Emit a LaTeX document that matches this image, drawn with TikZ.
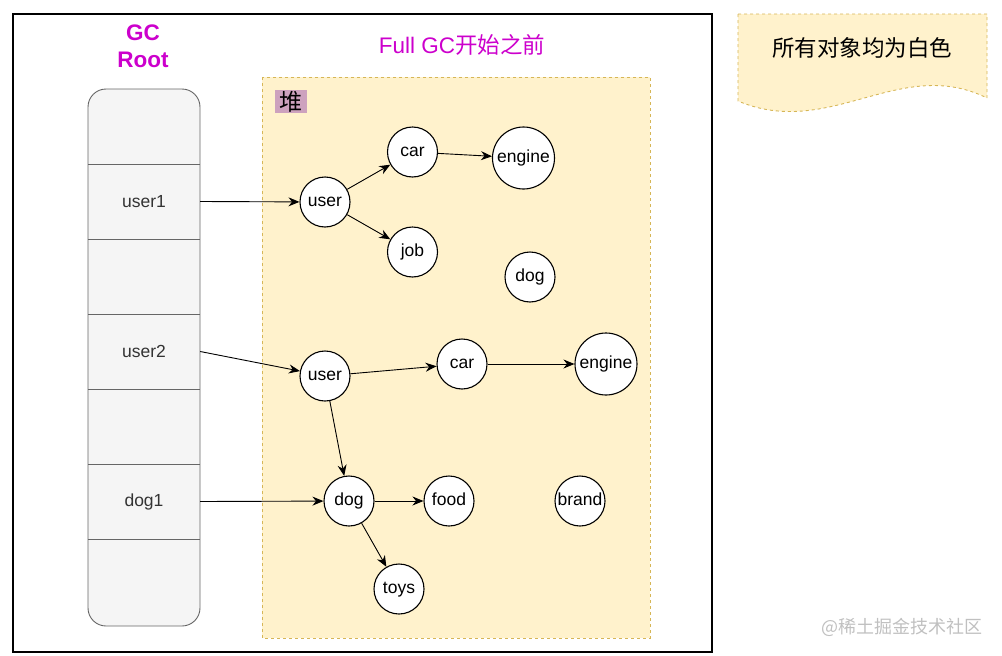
\documentclass[tikz,border=0pt]{standalone}
\usepackage{fontspec}
\setmainfont{Liberation Sans}
\newfontfamily\cjk{Noto Sans CJK SC}
\usetikzlibrary{arrows.meta}
\definecolor{mag}{HTML}{CC00CC}
\definecolor{heapfill}{HTML}{FFF2CC}
\definecolor{heapline}{HTML}{D6B656}
\definecolor{stackfill}{HTML}{F5F5F5}
\definecolor{stackline}{HTML}{666666}
\definecolor{stacktext}{HTML}{333333}
\definecolor{pilebg}{HTML}{CDA2BE}
\definecolor{wmark}{HTML}{C0C0C0}
\tikzset{
  obj/.style={circle, draw=black, fill=white, line width=1.1pt, minimum size=50pt, inner sep=0pt, text height=12pt, text depth=3.5pt, font=\fontsize{17.5}{20}\selectfont},
  bigobj/.style={obj, minimum size=62pt},
  cell/.style={rectangle, minimum width=112pt, minimum height=75pt, inner sep=0pt, text=stacktext, font=\fontsize{17.5}{20}\selectfont},
  ref/.style={-{Stealth[length=11pt,width=9pt]}, line width=0.9pt, black},
  magtext/.style={text=mag, align=center, font=\fontsize{22.5}{26}\selectfont},
}
\begin{document}
\begin{tikzpicture}[x=1pt,y=-1pt]
\useasboundingbox (0,0) rectangle (1002,656);
% outer frame
\draw[line width=1.1pt, black] (13,14) rectangle (712,652);
% titles
\node[magtext, font=\bfseries\fontsize{22.5}{27}\selectfont] (gcroot) at (143,46) {GC\\Root};
\node[magtext] (title) at (462,45) {Full GC{\cjk 开始之前}};
% heap
\draw[fill=heapfill, draw=heapline, dash pattern=on 3pt off 3pt, line width=0.9pt] (262,77) rectangle (650,638);
\node[fill=pilebg, minimum width=32pt, minimum height=23pt, inner sep=0pt, font=\cjk\fontsize{23}{25}\selectfont] (pile) at (291,101.5) {堆};
% stack
\draw[fill=stackfill, draw=stackline, line width=0.9pt, rounded corners=18pt] (88,89) rectangle (200,626);
\foreach \yy in {164,239,314,389,464,539}{\draw[stackline, line width=0.9pt] (88,\yy) -- (200,\yy);}
\node[cell] (c1) at (144,126.5) {};
\node[cell] (c2) at (144,201.5) {user1};
\node[cell] (c3) at (144,276.5) {};
\node[cell] (c4) at (144,351.5) {user2};
\node[cell] (c5) at (144,426.5) {};
\node[cell] (c6) at (144,501.5) {dog1};
% objects
\node[obj] (u1) at (325,202) {user};
\node[obj] (car1) at (412.5,152) {car};
\node[bigobj] (eng1) at (523.5,158) {engine};
\node[obj] (job) at (412.5,252) {job};
\node[obj] (dogA) at (530,277) {dog};
\node[obj] (u2) at (325,376) {user};
\node[obj] (car2) at (462,364) {car};
\node[bigobj] (eng2) at (606,364) {engine};
\node[obj] (dogB) at (349,501) {dog};
\node[obj] (food) at (449,501) {food};
\node[obj] (brand) at (580,501) {brand};
\node[obj] (toys) at (399,589) {toys};
% references
\draw[ref] (c2.east) -- (u1);
\draw[ref] (u1) -- (car1);
\draw[ref] (u1) -- (job);
\draw[ref] (car1) -- (eng1);
\draw[ref] (c4.east) -- (u2);
\draw[ref] (u2) -- (car2);
\draw[ref] (car2) -- (eng2);
\draw[ref] (u2) -- (dogB);
\draw[ref] (c6.east) -- (dogB);
\draw[ref] (dogB) -- (food);
\draw[ref] (dogB) -- (toys);
% note
\draw[fill=heapfill, draw=heapline, dash pattern=on 3pt off 3pt, line width=0.9pt]
  (738,14) -- (987,14) -- (987,98) .. controls (900,55) and (830,140) .. (738,101) -- cycle;
\node[font=\cjk\fontsize{22.5}{26}\selectfont] (note) at (862,48) {所有对象均为白色};
% watermark
\node[text=wmark, font=\cjk\fontsize{18}{20}\selectfont] (wm) at (902,627) {@稀土掘金技术社区};
\end{tikzpicture}
\end{document}
